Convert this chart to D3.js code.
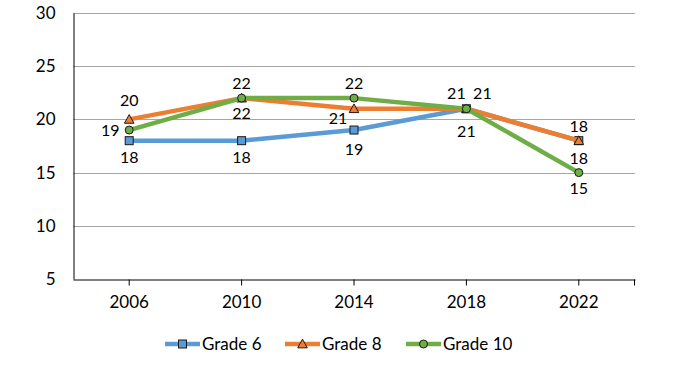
<!DOCTYPE html>
<html>
<head>
<meta charset="utf-8">
<script src="https://cdn.jsdelivr.net/npm/d3@7"></script>
<style>
  body { margin: 0; background: #fff; }
  svg { display: block; }
</style>
</head>
<body>
<div id="chart"></div>
<script>
// Data
const years = ['2006', '2010', '2014', '2018', '2022'];
const grade6 = [18, 18, 19, 21, 18];
const grade8 = [20, 22, 21, 21, 18];
const grade10 = [19, 22, 22, 21, 15];
const yTicks = [5, 10, 15, 20, 25, 30];

// label offsets [dx, dy] relative to point (text centre)
const series = [
    { name: 'Grade 6', values: grade6, color: '#5B9BD5', marker: 'square',
      labels: [[0, 17], [0, 17], [0, 19], [0, 23], [0, 18]] },
    { name: 'Grade 8', values: grade8, color: '#ED7D31', marker: 'triangle',
      labels: [[0, -19], [0, -15], [-16, 10], [-10, -15], [0, -14]] },
    { name: 'Grade 10', values: grade10, color: '#70AD47', marker: 'circle',
      labels: [[-19, 0], [0, 15], [0, -15], [16, -15], [0, 16]] }
];

const width = 681, height = 370;
const margin = { top: 13, right: 46, bottom: 91, left: 73 };
const font = 'Lato, Calibri, sans-serif';

const svg = d3.select('#chart').append('svg')
    .attr('width', width)
    .attr('height', height)
    .attr('font-family', font);

const x = d3.scaleBand()
    .domain(years)
    .range([margin.left, width - margin.right]);

const y = d3.scaleLinear()
    .domain([5, 30])
    .range([height - margin.bottom, margin.top]);

const cx = d => x(d) + x.bandwidth() / 2;

// gridlines
svg.append('g')
    .selectAll('line')
    .data(yTicks.filter(d => d > 5))
    .join('line')
    .attr('x1', margin.left)
    .attr('x2', width - margin.right)
    .attr('y1', d => Math.round(y(d)) + 0.5)
    .attr('y2', d => Math.round(y(d)) + 0.5)
    .attr('stroke', '#A6A6A6')
    .attr('stroke-width', 1);

// y axis
const yAxis = d3.axisLeft(y).tickValues(yTicks).tickSize(0).tickPadding(18);
const yAxisG = svg.append('g')
    .attr('transform', `translate(${margin.left + 0.5},0)`)
    .call(yAxis);
yAxisG.select('.domain').attr('stroke', '#000');
yAxisG.selectAll('text')
    .attr('font-size', 17)
    .attr('font-family', font)
    .attr('fill', '#000');

// x axis
const xAxisY = Math.round(y(5)) + 0.5;
const xAxis = d3.axisBottom(x).tickSize(6).tickPadding(10).tickSizeOuter(0);
const xAxisG = svg.append('g')
    .attr('transform', `translate(0,${xAxisY})`)
    .call(xAxis);
xAxisG.select('.domain').attr('stroke', '#000');
xAxisG.selectAll('.tick line').attr('stroke', '#000');
xAxisG.selectAll('text')
    .attr('font-size', 17)
    .attr('font-family', font)
    .attr('fill', '#000');
xAxisG.append('line')
    .attr('x1', width - margin.right - 0.5)
    .attr('x2', width - margin.right - 0.5)
    .attr('y1', 0)
    .attr('y2', 6)
    .attr('stroke', '#000');

// markers
function drawMarker(g, type, color, size) {
    if (type === 'square') {
        g.append('rect')
            .attr('x', -size / 2).attr('y', -size / 2)
            .attr('width', size).attr('height', size)
            .attr('fill', color).attr('stroke', '#1a1a1a').attr('stroke-width', 1);
    } else if (type === 'triangle') {
        const s = size * 0.6;
        g.append('path')
            .attr('d', `M0 ${-s} L${s} ${s * 0.8} L${-s} ${s * 0.8}Z`)
            .attr('fill', color).attr('stroke', '#1a1a1a').attr('stroke-width', 1);
    } else {
        g.append('circle')
            .attr('r', size / 2)
            .attr('fill', color).attr('stroke', '#1a1a1a').attr('stroke-width', 1);
    }
}

const line = d3.line()
    .x((d, i) => cx(years[i]))
    .y(d => y(d));

series.forEach(s => {
    const g = svg.append('g');
    g.append('path')
        .datum(s.values)
        .attr('d', line)
        .attr('fill', 'none')
        .attr('stroke', s.color)
        .attr('stroke-width', 4.5)
        .attr('stroke-linejoin', 'round')
        .attr('stroke-linecap', 'round');
    s.values.forEach((v, i) => {
        const m = g.append('g').attr('transform', `translate(${cx(years[i])},${y(v)})`);
        drawMarker(m, s.marker, s.color, 8);
    });
});

// data labels
series.forEach(s => {
    svg.append('g')
        .selectAll('text')
        .data(s.values)
        .join('text')
        .attr('x', (d, i) => cx(years[i]) + s.labels[i][0])
        .attr('y', (d, i) => y(d) + s.labels[i][1])
        .attr('dy', '0.35em')
        .attr('text-anchor', 'middle')
        .attr('font-size', 16)
        .attr('fill', '#000')
        .text(d => d);
});

// legend
const legendX = [165, 285, 406];
const legend = svg.append('g').attr('transform', 'translate(0,344)');
series.forEach((s, i) => {
    const g = legend.append('g').attr('transform', `translate(${legendX[i]},0)`);
    g.append('line')
        .attr('x1', 0).attr('x2', 35)
        .attr('stroke', s.color).attr('stroke-width', 4.5);
    const m = g.append('g').attr('transform', 'translate(17.5,0)');
    drawMarker(m, s.marker, s.color, 8);
    g.append('text')
        .attr('x', 37)
        .attr('dy', '0.35em')
        .attr('font-size', 17)
        .attr('fill', '#000')
        .text(s.name);
});
</script>
</body>
</html>
